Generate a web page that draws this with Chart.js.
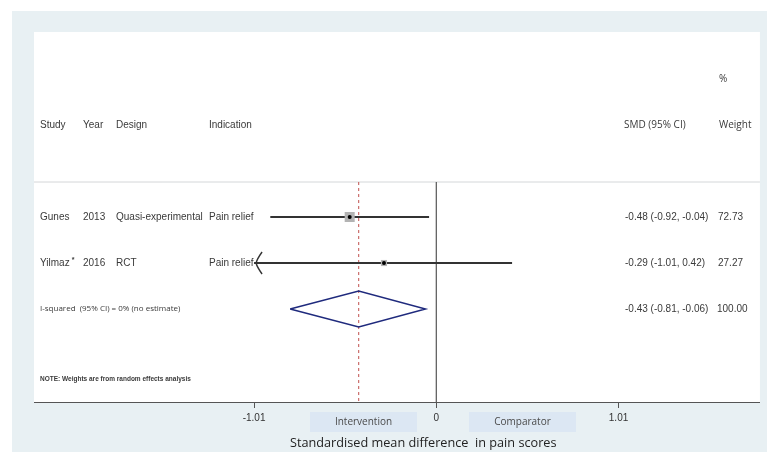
<!DOCTYPE html>
<html>
<head>
<meta charset="utf-8">
<script src="https://cdn.jsdelivr.net/npm/chart.js@4.4.1/dist/chart.umd.min.js"></script>
<style>
  html, body { margin: 0; padding: 0; background: #ffffff; }
  #wrap { position: relative; width: 767px; height: 452px; }
  canvas { display: block; }
</style>
</head>
<body>
<div id="wrap"><canvas id="forest" width="767" height="452"></canvas></div>
<script>
// Study-level data
const studies = ['Gunes', 'Yilmaz'];
const studyMarks = ['', '*'];
const years = ['2013', '2016'];
const designs = ['Quasi-experimental', 'RCT'];
const indications = ['Pain relief', 'Pain relief'];
const smd = [-0.48, -0.29];
const ciLower = [-0.92, -1.01];
const ciUpper = [-0.04, 0.42];
const weights = [72.73, 27.27];

// Pooled random-effects estimate
const pooledSmd = -0.43;
const pooledLower = -0.81;
const pooledUpper = -0.06;
const pooledWeight = 100.00;
const heterogeneityText = 'I-squared  (95% CI) = 0% (no estimate)';
const noteText = 'NOTE: Weights are from random effects analysis';

// Axis
const xTicks = [-1.01, 0, 1.01];
const headerCols = ['Study', 'Year', 'Design', 'Indication'];
const axisTitle = 'Standardised mean difference  in pain scores';
const favourLabels = ['Intervention', 'Comparator'];

// Row layout (y units, top to bottom)
const ROW_PCT = 1.0, ROW_HEAD = 2.0, ROW_SEP = 3.24, ROW_FIRST = 4, ROW_NOTE = 7.52;
const ROW_POOLED = ROW_FIRST + studies.length;
const Y_MIN = -0.02, Y_MAX = 8.02;
const X_MIN = -2.2296, X_MAX = 1.7936;

const fmt = v => v.toFixed(2);
const TEXT = '#3a3a3a';
const SANS = '"Liberation Sans", Arial, sans-serif';
const SOFT = '"Open Sans", "Noto Sans", sans-serif';

const line = (pts, color, width, extra) => Object.assign({
  data: pts, showLine: true, borderColor: color, borderWidth: width,
  pointRadius: 0, pointHoverRadius: 0, fill: false, tension: 0
}, extra || {});

const datasets = [];
// header separator
datasets.push(line([{x: X_MIN, y: ROW_SEP}, {x: X_MAX, y: ROW_SEP}], '#d4d7d9', 1, {order: 20}));
// line of no effect
datasets.push(line([{x: 0, y: ROW_SEP}, {x: 0, y: Y_MAX}], '#555555', 1.2, {order: 15}));
// pooled estimate reference
datasets.push(line([{x: pooledSmd, y: ROW_SEP}, {x: pooledSmd, y: Y_MAX}], '#c0504d', 1, {borderDash: [3, 3], order: 14}));
// confidence intervals
studies.forEach((s, i) => {
  datasets.push(line([{x: ciLower[i], y: ROW_FIRST + i}, {x: ciUpper[i], y: ROW_FIRST + i}], '#333333', 2, {order: 5}));
});
// pooled diamond
datasets.push(line([
  {x: pooledLower, y: ROW_POOLED},
  {x: pooledSmd, y: ROW_POOLED - 0.39},
  {x: pooledUpper, y: ROW_POOLED},
  {x: pooledSmd, y: ROW_POOLED + 0.39},
  {x: pooledLower, y: ROW_POOLED}
], '#1f2a7d', 1.5, {order: 4}));
// weight boxes (area proportional to weight)
datasets.push({
  data: smd.map((v, i) => ({x: v, y: ROW_FIRST + i})),
  pointStyle: 'rect',
  pointRadius: weights.map(w => 0.83 * Math.sqrt(w)),
  pointHoverRadius: weights.map(w => 0.83 * Math.sqrt(w)),
  backgroundColor: '#b3b3b3', borderWidth: 0, order: 2
});
// point estimates
datasets.push({
  data: smd.map((v, i) => ({x: v, y: ROW_FIRST + i})),
  pointStyle: 'circle', pointRadius: 2, pointHoverRadius: 2,
  backgroundColor: '#000000', borderWidth: 0, order: 1
});

const panelPlugin = {
  id: 'panel',
  beforeDraw(chart) {
    const {ctx, chartArea: a, width, height} = chart;
    ctx.save();
    ctx.fillStyle = '#ffffff';
    ctx.fillRect(0, 0, width, height);
    ctx.fillStyle = '#e8f0f3';
    ctx.fillRect(12, 11, width - 12, height - 11);
    ctx.fillStyle = '#ffffff';
    ctx.fillRect(a.left, a.top, a.right - a.left, a.bottom - a.top);
    ctx.restore();
  }
};

const tablePlugin = {
  id: 'table',
  afterDatasetsDraw(chart) {
    const {ctx} = chart;
    const xs = chart.scales.x, ys = chart.scales.y;
    const Y = r => ys.getPixelForValue(r);
    const col = {study: 40, year: 83, design: 116, indication: 209, est: 625, weight: 718};
    ctx.save();
    ctx.textBaseline = 'middle';
    ctx.textAlign = 'left';
    ctx.fillStyle = TEXT;

    // headers
    ctx.font = '10px ' + SANS;
    const hx = [col.study, col.year, col.design, col.indication];
    headerCols.forEach((h, i) => ctx.fillText(h, hx[i], Y(ROW_HEAD)));
    ctx.font = '10px ' + SOFT;
    ctx.fillText('SMD (95% CI)', col.est - 1, Y(ROW_HEAD));
    ctx.fillText('Weight', col.weight + 1, Y(ROW_HEAD));
    ctx.fillText('%', col.weight + 1, Y(ROW_PCT));

    // study rows
    studies.forEach((s, i) => {
      const y = Y(ROW_FIRST + i);
      ctx.font = '10px ' + SANS;
      ctx.fillText(s, col.study, y);
      if (studyMarks[i]) {
        const w = ctx.measureText(s).width;
        ctx.font = 'bold 7px ' + SANS;
        ctx.fillText(studyMarks[i], col.study + w + 2, y - 3);
        ctx.font = '10px ' + SANS;
      }
      ctx.fillText(years[i], col.year, y);
      ctx.fillText(designs[i], col.design, y);
      ctx.fillText(indications[i], col.indication, y);
      ctx.fillText(`${fmt(smd[i])} (${fmt(ciLower[i])}, ${fmt(ciUpper[i])})`, col.est, y);
      ctx.fillText(fmt(weights[i]), col.weight, y);

      // arrow where the interval reaches the axis limit
      if (ciLower[i] <= xTicks[0]) {
        const tx = xs.getPixelForValue(ciLower[i]) + 2;
        ctx.save();
        ctx.strokeStyle = '#333333';
        ctx.lineWidth = 1.4;
        ctx.beginPath();
        ctx.moveTo(tx + 6, y - 11);
        ctx.quadraticCurveTo(tx + 1, y - 4, tx, y);
        ctx.quadraticCurveTo(tx + 1, y + 4, tx + 6, y + 11);
        ctx.stroke();
        ctx.restore();
      }
    });

    // pooled row
    const yp = Y(ROW_POOLED);
    ctx.font = '8px ' + SOFT;
    ctx.fillText(heterogeneityText, col.study, yp);
    ctx.font = '10px ' + SANS;
    ctx.fillText(`${fmt(pooledSmd)} (${fmt(pooledLower)}, ${fmt(pooledUpper)})`, col.est, yp);
    ctx.fillText(fmt(pooledWeight), col.weight - 1, yp);

    // footnote
    ctx.font = 'bold 6.5px ' + SANS;
    ctx.fillText(noteText, col.study, Y(ROW_NOTE));
    ctx.restore();
  },
  afterDraw(chart) {
    const {ctx} = chart;
    ctx.save();
    // favour boxes
    const boxes = [[310, 412, 107, 20], [469, 412, 107, 20]];
    favourLabels.forEach((t, i) => {
      const [bx, by, bw, bh] = boxes[i];
      ctx.fillStyle = '#dce7f3';
      ctx.fillRect(bx, by, bw, bh);
      ctx.fillStyle = '#4a4a4a';
      ctx.font = '10px ' + SOFT;
      ctx.textAlign = 'center';
      ctx.textBaseline = 'middle';
      ctx.fillText(t, bx + bw / 2, by + bh / 2);
    });
    // axis title
    ctx.fillStyle = '#222222';
    ctx.font = '12.7px ' + SOFT;
    ctx.textAlign = 'left';
    ctx.textBaseline = 'middle';
    ctx.fillText(axisTitle, 290, 443);
    ctx.restore();
  }
};

new Chart(document.getElementById('forest'), {
  type: 'scatter',
  data: { datasets },
  options: {
    responsive: false,
    animation: false,
    devicePixelRatio: 1,
    layout: { padding: { left: 34, right: 4, top: 32, bottom: 0 } },
    plugins: { legend: { display: false }, tooltip: { enabled: false } },
    events: [],
    scales: {
      x: {
        type: 'linear', min: X_MIN, max: X_MAX, position: 'bottom',
        afterBuildTicks: s => { s.ticks = xTicks.map(v => ({ value: v })); },
        afterFit: s => { s.height = 50; },
        ticks: {
          autoSkip: false, maxRotation: 0, padding: 4,
          color: '#333333', font: { family: SANS, size: 10 },
          callback: v => (v === 0 ? '0' : Number(v).toFixed(2))
        },
        grid: { drawOnChartArea: false, tickLength: 6, color: '#555555', lineWidth: 1 },
        border: { color: '#555555', width: 1 }
      },
      y: { type: 'linear', min: Y_MIN, max: Y_MAX, reverse: true, display: false }
    }
  },
  plugins: [panelPlugin, tablePlugin]
});
</script>
</body>
</html>
